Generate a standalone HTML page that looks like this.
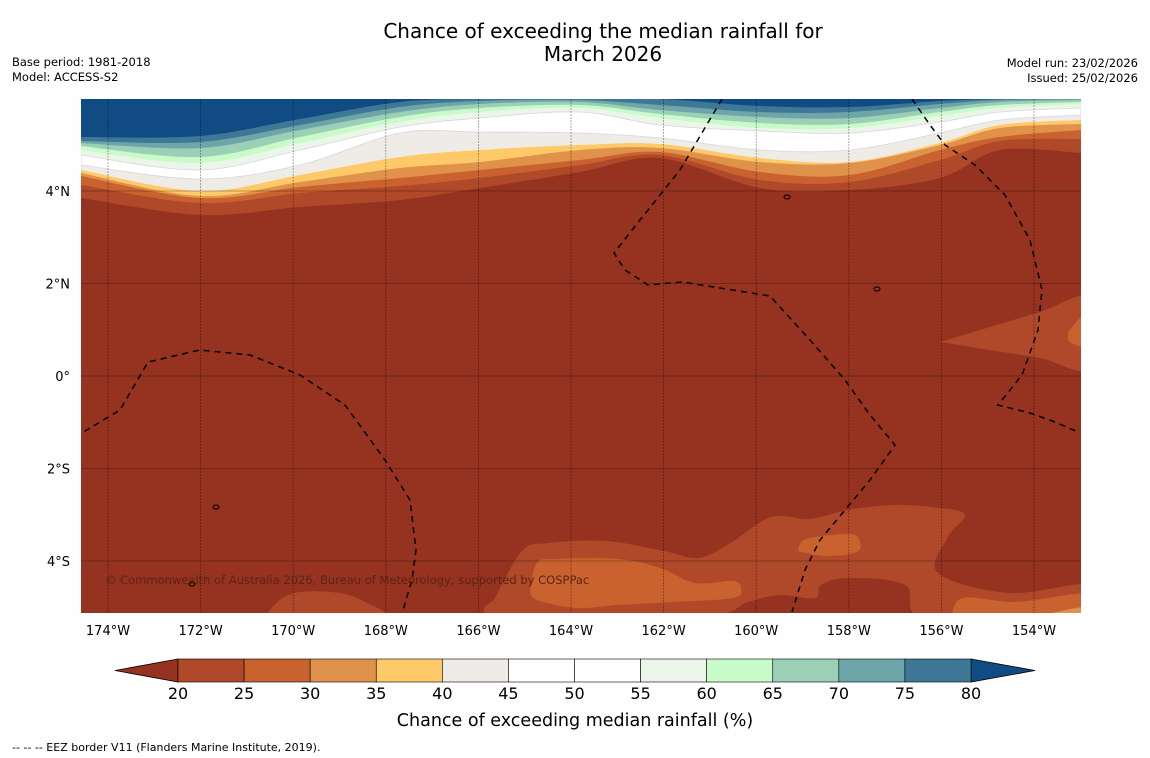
<!DOCTYPE html>
<html><head><meta charset="utf-8">
<style>
body{margin:0;background:#fff;font-family:"DejaVu Sans",sans-serif;}
svg{display:block}
</style></head>
<body>
<svg id="s" width="1150" height="758" viewBox="0 0 1150 758" xmlns="http://www.w3.org/2000/svg" font-family="DejaVu Sans, sans-serif">
<rect width="1150" height="758" fill="#fefefe"/>
<text x="603" y="38" font-size="20" text-anchor="middle">Chance of exceeding the median rainfall for</text>
<text x="603" y="61" font-size="20" text-anchor="middle">March 2026</text>
<text x="12" y="66" font-size="11.5">Base period: 1981-2018</text>
<text x="12" y="81" font-size="11.5">Model: ACCESS-S2</text>
<text x="1138" y="67" font-size="11.5" text-anchor="end">Model run: 23/02/2026</text>
<text x="1138" y="82" font-size="11.5" text-anchor="end">Issued: 25/02/2026</text>
<defs><clipPath id="mc"><rect x="81" y="99" width="1000" height="514"/></clipPath></defs>
<g id="map" clip-path="url(#mc)"></g>
<g id="axes"></g>
<g id="cbar"></g>
<text x="575" y="726" font-size="17.5" text-anchor="middle">Chance of exceeding median rainfall (%)</text>
<text x="12" y="751" font-size="11">--  --  -- EEZ border V11 (Flanders Marine Institute, 2019).</text>
</svg>
<script>
const binEdges=[20,25,30,35,40,45,50,55,60,65,70,75,80];
const binColors=["#b0482a","#c9622f","#e0924a","#fec968","#efebe6","#ffffff","#ffffff","#ebf5e9","#c9fbca","#9bcfb6","#6ea5a8","#3f7897"];
const lowColor="#963220", highColor="#114b84";
const lonTicks=[-174,-172,-170,-168,-166,-164,-162,-160,-158,-156,-154];
const latTicks=[4,2,0,-2,-4];
const xs=[81,200,300,400,480,580,660,760,850,940,1000,1081];
const bHigh=[137,136,119,102,99,99,99,106,107,101,99,99];
const b75=[141,142,125,107,101,100,105,112,112,104,100,99];
const b70=[143,148,130,112,104,102,110,117,118,108,102,100];
const b65=[146,157,137,117,108,105,114,123,124,112,105,102];
const b60=[150,163,143,122,112,108,118,128,128,116,108,104];
const b55=[155,170,150,127,118,112,125,131,133,122,112,108];
const b45=[165,179,165,133,132,133,138,150,150,133,120,115];
const b40=[170,191,175,157,150,145,144,158,162,143,125,120];
const b35=[173,196,182,168,162,150,148,162,163,145,128,124];
const b30=[176,198,187,178,170,160,152,172,175,150,137,130];
const b25=[185,203,193,186,178,165,155,180,182,160,141,139];
const b20=[198,215,207,200,188,172,158,188,190,178,150,153];

const NS="http://www.w3.org/2000/svg";
const X=lon=>108+(lon+174)*46.3, Y=lat=>376-lat*46.25;
function el(t,a,p){const e=document.createElementNS(NS,t);for(const k in a)e.setAttribute(k,a[k]);p.appendChild(e);return e;}
function smooth(pts){let d="M"+pts[0][0]+","+pts[0][1];for(let i=0;i<pts.length-1;i++){const p0=pts[Math.max(i-1,0)],p1=pts[i],p2=pts[i+1],p3=pts[Math.min(i+2,pts.length-1)];d+=` C${p1[0]+(p2[0]-p0[0])/6},${p1[1]+(p2[1]-p0[1])/6} ${p2[0]-(p3[0]-p1[0])/6},${p2[1]-(p3[1]-p1[1])/6} ${p2[0]},${p2[1]}`;}return d;}
const map=document.getElementById('map');
let r=el('rect',{x:81,y:99,width:1000,height:514,fill:highColor},map);


const layers=[[bHigh,binColors[11],'75-80'],[b75,binColors[10],'70-75'],[b70,binColors[9],'65-70'],[b65,binColors[8],'60-65'],[b60,binColors[7],'55-60'],[b55,binColors[6],'45-55'],[b45,binColors[4],'40-45'],[b40,binColors[3],'35-40'],[b35,binColors[2],'30-35'],[b30,binColors[1],'25-30'],[b25,binColors[0],'20-25'],[b20,lowColor,'below-20']];
layers.forEach(([b,c,n])=>{
  const pts=xs.map((x,i)=>[x,b[i]]);
  const p=el('path',{d:smooth(pts)+" L1081,613 L81,613 Z",fill:c,stroke:(c=="#ffffff"||c=="#efebe6")?"#d8d8d8":"none","stroke-width":0.8},map);
  
  
});
function patch(pts,c,n){const p=el('path',{d:smooth(pts)+" Z",fill:c},map);
  
  }
patch([[940,342],[990,327],[1040,312],[1090,298],[1090,368],[1040,358],[990,350],[940,342]],binColors[0],'patch-east-20-25');
patch([[1068,332],[1082,316],[1090,316],[1090,346],[1070,342],[1068,332]],binColors[1],'patch-east-25-30');
patch([[495,598],[522,551],[549,543],[606,541],[664,551],[698,558],[729,544],[771,517],[810,519],[848,510],[894,505],[940,508],[965,515],[948,537],[938,573],[1009,593],[1090,585],[1090,620],[928,620],[905,585],[848,578],[821,585],[815,598],[779,595],[748,602],[702,616],[500,616],[495,598]],binColors[0],'patch-south-20-25');
patch([[530,591],[537,563],[557,559],[618,559],[660,568],[695,583],[733,581],[741,588],[733,598],[672,602],[618,605],[576,608],[537,600],[530,591]],binColors[1],'patch-south-25-30');
patch([[798,551],[806,539],[848,534],[859,539],[857,552],[825,556],[798,551]],binColors[1],'patch-mid-25-30');
patch([[951,618],[963,598],[1017,602],[1090,594],[1090,620],[951,618]],binColors[1],'patch-se-25-30');
patch([[1028,618],[1081,607],[1090,607],[1090,620],[1028,618]],binColors[2],'patch-se-30-35');
patch([[265,616],[280,600],[300,592],[340,593],[365,602],[380,616],[265,616]],binColors[0],'patch-sw-20-25');
lonTicks.forEach(l=>{const g=el('line',{x1:X(l),x2:X(l),y1:99,y2:613,stroke:"#000","stroke-opacity":0.4,"stroke-width":0.8,"stroke-dasharray":"2,1"},map);
  
  });
latTicks.forEach(l=>{const g=el('line',{x1:81,x2:1081,y1:Y(l),y2:Y(l),stroke:"#000","stroke-opacity":0.35,"stroke-width":0.8},map);
  
  });
const eez=[[[75,437],[120,410],[148,362],[200,350],[250,355],[300,375],[345,405],[385,460],[410,500],[416,550],[412,580],[403,610]],
[[722,99],[680,170],[640,220],[614,253],[625,270],[648,285],[682,282],[720,288],[770,296],[810,340],[845,380],[870,415],[895,445],[870,480],[845,510],[820,540],[805,570],[792,612]],
[[912,99],[930,125],[945,145],[975,165],[1005,195],[1030,240],[1042,290],[1038,330],[1022,375],[998,405],[1030,413],[1055,422],[1078,432]]];
eez.forEach(p=>{const e=el('path',{d:"M"+p.map(q=>q.join(",")).join(" L"),fill:"none",stroke:"#000","stroke-width":1.5,"stroke-dasharray":"6,5"},map);
  
  });
const isl=[[787,197],[877,289],[216,507],[192,584]];
isl.forEach(q=>{const e=el('ellipse',{cx:q[0],cy:q[1],rx:3,ry:2,fill:"none",stroke:"#000","stroke-width":1},map);
  
  });
const cp=el('text',{x:105,y:584,"font-size":11.5,fill:"#5c2414"},map);cp.textContent="© Commonwealth of Australia 2026, Bureau of Meteorology, supported by COSPPac";


const ax=document.getElementById('axes');
lonTicks.forEach(l=>{const t=el('text',{x:X(l),y:635,"font-size":13,"text-anchor":"middle"},ax);t.textContent=Math.abs(l)+"°W";
  
  });
latTicks.forEach(l=>{const t=el('text',{x:70,y:Y(l)+5,"font-size":13,"text-anchor":"end"},ax);t.textContent=l==0?"0°":Math.abs(l)+"°"+(l>0?"N":"S");
  
  });
const cb=document.getElementById('cbar');
const cx=v=>178+(v-20)*(971-178)/60;
let tri=el('polygon',{points:"178,659 115,670.5 178,682",fill:lowColor,stroke:"#000","stroke-width":0.8},cb);


tri=el('polygon',{points:"971,659 1035,670.5 971,682",fill:highColor,stroke:"#000","stroke-width":0.8},cb);


binColors.forEach((c,i)=>{const b=el('rect',{x:cx(binEdges[i]),y:659,width:cx(binEdges[i+1])-cx(binEdges[i]),height:23,fill:c,stroke:"#000","stroke-width":0.6},cb);
  
  });
binEdges.forEach(v=>{const t=el('text',{x:cx(v),y:699,"font-size":16,"text-anchor":"middle"},cb);t.textContent=v;
  
  });
</script>
</body></html>
